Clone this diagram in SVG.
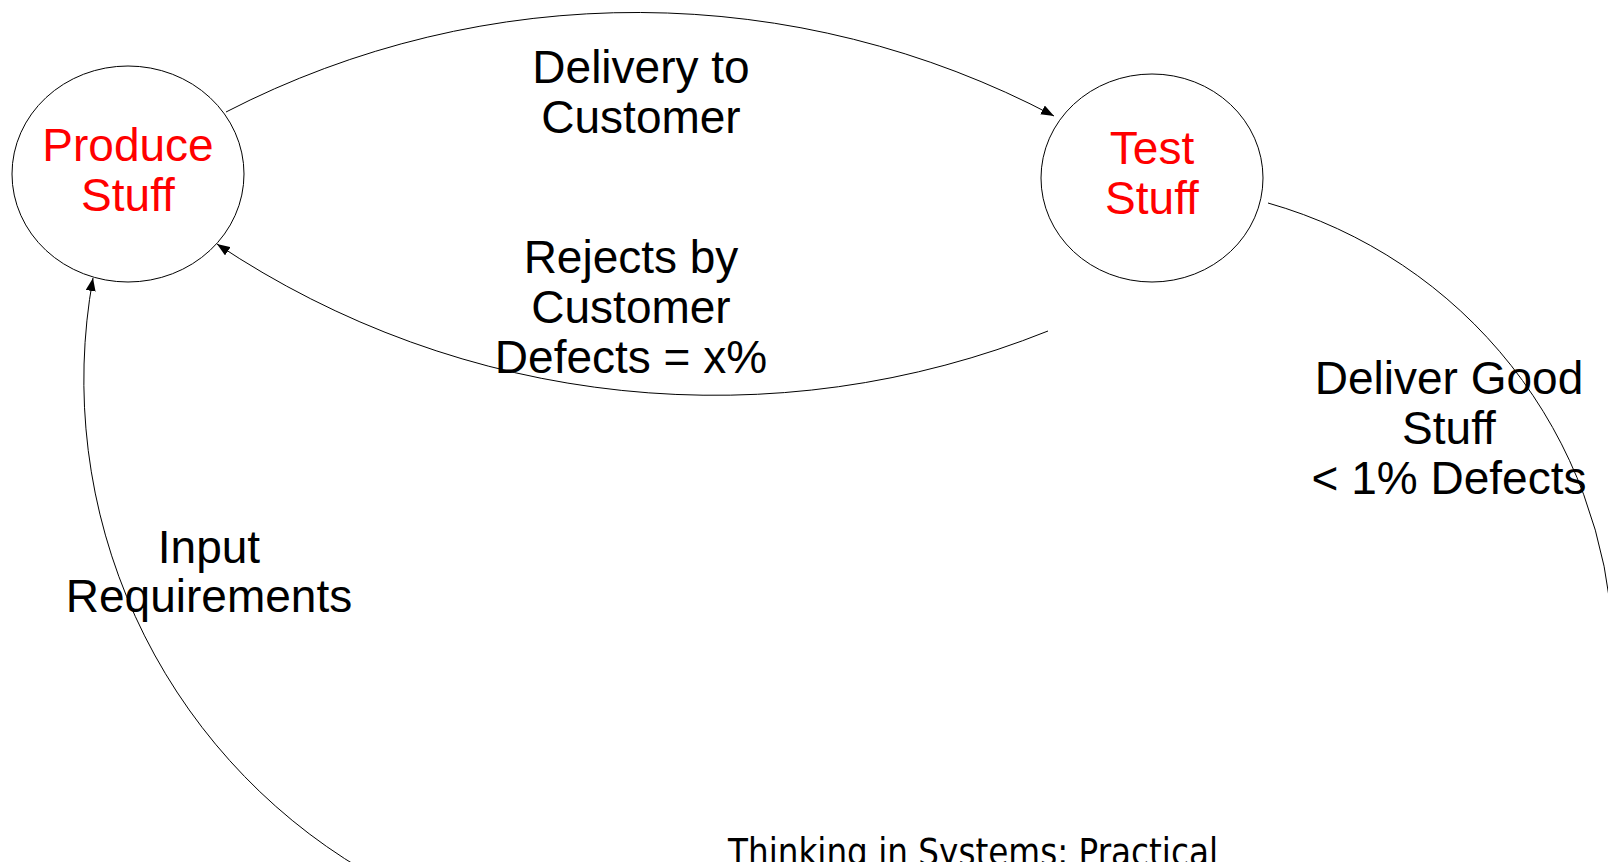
<svg xmlns="http://www.w3.org/2000/svg" width="1608" height="862" viewBox="0 0 1608 862">
  <style>
    .node { fill: #ffffff; stroke: #000000; stroke-width: 1; }
    .ntext { font-family: "Liberation Sans", Arial, sans-serif; font-size: 46px; fill: #ff0000; text-anchor: middle; }
    .label { font-family: "Liberation Sans", Arial, sans-serif; font-size: 46px; fill: #000000; text-anchor: middle; }
    .conn { fill: none; stroke: #000000; stroke-width: 1; }
    .footer { font-family: "DejaVu Sans", Tahoma, sans-serif; font-size: 37px; fill: #000000; }
  </style>
  <defs>
    <marker id="arrow" markerUnits="userSpaceOnUse" markerWidth="13" markerHeight="10" viewBox="0 0 13 10" refX="13" refY="5" orient="auto">
      <path d="M0,0 L13,5 L0,10 z" fill="#000000"/>
    </marker>
  </defs>
  <rect x="0" y="0" width="1608" height="862" fill="#ffffff"/>

  <g id="produce-stuff">
    <ellipse class="node" cx="128" cy="174" rx="116" ry="108"/>
    <text class="ntext" x="128" y="161">Produce</text>
    <text class="ntext" x="128" y="211">Stuff</text>
  </g>

  <g id="test-stuff">
    <ellipse class="node" cx="1152" cy="178" rx="111" ry="104"/>
    <text class="ntext" x="1152" y="164">Test</text>
    <text class="ntext" x="1152" y="214">Stuff</text>
  </g>

  <g id="connectors">
    <path class="conn" d="M226,112 A895,895 0 0 1 1054,116" marker-end="url(#arrow)"/>
    <path class="conn" d="M1048,331 A895,895 0 0 1 217,244" marker-end="url(#arrow)"/>
    <path class="conn" d="M1268,203 A475,475 0 0 1 1613,640"/>
    <path class="conn" d="M363,870 A570,570 0 0 1 93,278" marker-end="url(#arrow)"/>
  </g>

  <g id="labels">
    <text class="label" x="641" y="83">Delivery to</text>
    <text class="label" x="641" y="133">Customer</text>
    <text class="label" x="631" y="273">Rejects by</text>
    <text class="label" x="631" y="323">Customer</text>
    <text class="label" x="631" y="373">Defects = x%</text>
    <text class="label" x="1449" y="394">Deliver Good</text>
    <text class="label" x="1449" y="444">Stuff</text>
    <text class="label" x="1449" y="494">&lt; 1% Defects</text>
    <text class="label" x="209" y="563">Input</text>
    <text class="label" x="209" y="612">Requirements</text>
  </g>

  <text class="footer" x="728" y="865" textLength="490" lengthAdjust="spacingAndGlyphs">Thinking in Systems: Practical</text>
</svg>
